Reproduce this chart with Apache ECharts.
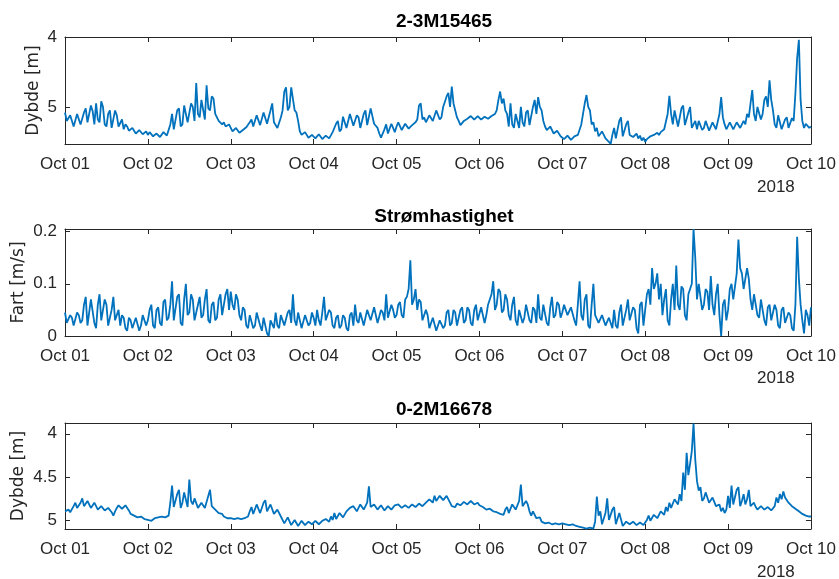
<!DOCTYPE html>
<html><head><meta charset="utf-8">
<script src="https://cdn.jsdelivr.net/npm/echarts@6/dist/echarts.min.js"></script>
<style>html,body{margin:0;padding:0;background:#fff}#c{width:839px;height:579px}</style>
</head><body><div id="c"></div>
<script>
// half-hourly samples starting 2018-10-01 00:00, ending 2018-10-10 00:00 (one row per day)
const dayLabels = ['Oct 01','Oct 02','Oct 03','Oct 04','Oct 05','Oct 06','Oct 07','Oct 08','Oct 09','Oct 10'];
const yearLabel = '2018';
const titles = ['2-3M15465','Strømhastighet','0-2M16678'];
const yNames = ['Dybde [m]','Fart [m/s]','Dybde [m]'];
const ticksTop = [4,5];
const ticksMid = [0,0.1,0.2];
const ticksBot = [4,4.5,5];

const depthTop = [
 5.08,5.20,5.22,5.12,5.14,5.28,5.26,5.10,5.12,5.25,5.24,5.08,5.02,5.22,5.20,4.98,5.06,5.25,4.95,5.18,5.22,4.92,5.00,5.25,5.28,5.10,5.05,5.30,5.30,5.05,5.12,5.28,5.26,5.18,5.32,5.25,5.28,5.34,5.36,5.30,5.32,5.38,5.37,5.33,5.33,5.39,5.38,5.35,
 5.40,5.36,5.37,5.42,5.42,5.38,5.38,5.43,5.41,5.36,5.36,5.41,5.40,5.25,5.10,5.32,5.30,5.05,5.02,5.28,5.25,4.98,4.98,5.22,5.20,4.95,5.00,5.20,4.66,5.10,5.15,4.90,4.92,5.18,4.69,5.02,5.05,4.85,4.88,5.10,5.12,5.20,5.18,5.25,5.22,5.28,5.28,5.25,
 5.30,5.35,5.35,5.30,5.32,5.37,5.37,5.33,5.34,5.29,5.30,5.22,5.18,5.28,5.28,5.12,5.12,5.26,5.25,5.08,5.10,5.24,5.22,5.05,4.95,5.22,5.20,5.30,5.30,5.15,5.05,4.78,4.72,5.05,5.00,4.72,4.70,5.05,5.08,5.20,5.35,5.40,5.42,5.36,5.38,5.44,5.45,5.40,
 5.40,5.45,5.44,5.39,5.38,5.46,5.46,5.41,5.40,5.45,5.43,5.36,5.35,5.24,5.20,5.35,5.32,5.14,5.12,5.30,5.28,5.10,5.10,5.27,5.25,5.12,5.15,5.30,5.30,5.10,5.05,5.26,5.25,5.02,5.00,5.24,5.22,5.30,5.38,5.44,5.45,5.32,5.25,5.38,5.38,5.24,5.30,5.36,
 5.28,5.22,5.20,5.33,5.32,5.24,5.25,5.31,5.30,5.26,5.28,5.22,5.18,4.98,4.95,5.18,5.15,5.22,5.20,5.12,5.10,5.20,5.18,5.05,5.05,5.18,5.15,5.00,5.00,4.85,4.80,5.00,4.71,4.95,5.05,5.15,5.20,5.26,5.28,5.20,5.22,5.17,5.18,5.13,5.14,5.18,5.17,5.13,
 5.15,5.18,5.18,5.14,5.13,5.17,5.17,5.13,5.14,5.10,5.05,4.90,4.78,4.95,4.88,5.05,5.10,5.28,4.95,5.25,5.30,5.10,5.12,5.30,5.00,5.22,5.28,5.08,5.05,5.26,5.25,5.00,4.90,5.10,4.86,5.00,5.05,5.20,5.28,5.33,5.35,5.28,5.30,5.38,5.40,5.34,5.38,5.42,
 5.42,5.46,5.45,5.41,5.43,5.47,5.46,5.42,5.44,5.40,5.40,5.25,5.10,4.95,4.83,5.00,5.05,5.25,5.22,5.35,5.30,5.42,5.42,5.35,5.35,5.45,5.45,5.50,5.53,5.40,5.30,5.45,5.45,5.20,5.15,5.42,5.40,5.25,5.20,5.40,5.38,5.43,5.42,5.38,5.45,5.41,5.48,5.44,
 5.50,5.46,5.46,5.42,5.44,5.40,5.42,5.37,5.40,5.36,5.38,5.32,5.30,5.10,4.84,5.10,5.25,5.05,5.05,5.28,5.30,5.02,4.98,5.26,5.28,5.08,5.00,5.30,5.25,5.20,5.32,5.20,5.18,5.33,5.30,5.20,5.22,5.34,5.33,5.22,5.20,5.32,5.30,5.10,4.86,5.15,5.25,5.32,
 5.30,5.22,5.22,5.32,5.32,5.22,5.20,5.30,5.28,5.20,5.25,5.10,5.15,4.95,4.76,5.10,5.20,5.00,4.98,5.18,5.10,4.90,4.85,5.00,4.62,4.90,5.05,5.25,5.30,5.12,5.12,5.32,5.32,5.18,5.15,5.30,5.30,5.16,5.20,4.80,4.30,4.04,4.90,5.20,5.30,5.24,5.25,5.30,
 5.28
];
const speed = [
 0.045,0.025,0.025,0.04,0.035,0.02,0.02,0.045,0.04,0.025,0.03,0.06,0.075,0.02,0.02,0.07,0.07,0.025,0.015,0.06,0.08,0.03,0.03,0.07,0.06,0.02,0.02,0.05,0.075,0.03,0.03,0.05,0.02,0.04,0.035,0.015,0.01,0.035,0.03,0.015,0.015,0.035,0.035,0.01,0.02,0.04,0.04,0.02,
 0.03,0.05,0.06,0.02,0.015,0.05,0.055,0.025,0.02,0.065,0.07,0.03,0.035,0.06,0.105,0.03,0.03,0.075,0.08,0.025,0.02,0.07,0.10,0.04,0.045,0.08,0.07,0.03,0.03,0.06,0.075,0.035,0.04,0.07,0.09,0.03,0.025,0.06,0.065,0.03,0.035,0.07,0.08,0.04,0.04,0.08,0.09,0.05,
 0.085,0.06,0.05,0.08,0.07,0.04,0.03,0.055,0.05,0.02,0.015,0.04,0.04,0.015,0.02,0.045,0.045,0.02,0.01,0.035,0.035,0.005,0.0,0.03,0.03,0.015,0.045,0.02,0.015,0.04,0.04,0.02,0.02,0.045,0.05,0.025,0.08,0.03,0.02,0.045,0.045,0.015,0.015,0.04,0.04,0.02,0.025,0.045,
 0.035,0.02,0.05,0.03,0.02,0.045,0.075,0.03,0.03,0.05,0.045,0.02,0.015,0.035,0.04,0.015,0.02,0.04,0.035,0.015,0.01,0.04,0.045,0.02,0.06,0.03,0.025,0.045,0.045,0.02,0.02,0.05,0.05,0.03,0.03,0.055,0.055,0.025,0.025,0.05,0.045,0.03,0.08,0.035,0.035,0.06,0.05,0.035,
 0.04,0.06,0.065,0.04,0.035,0.07,0.075,0.09,0.145,0.06,0.07,0.09,0.05,0.07,0.065,0.03,0.03,0.05,0.04,0.015,0.015,0.035,0.035,0.01,0.01,0.03,0.03,0.015,0.02,0.045,0.05,0.02,0.025,0.05,0.045,0.02,0.02,0.05,0.055,0.025,0.03,0.055,0.05,0.025,0.02,0.05,0.06,0.03,
 0.03,0.055,0.055,0.025,0.04,0.06,0.06,0.08,0.105,0.05,0.06,0.09,0.085,0.045,0.05,0.08,0.07,0.04,0.03,0.06,0.075,0.03,0.02,0.05,0.05,0.025,0.035,0.06,0.06,0.03,0.025,0.055,0.05,0.025,0.08,0.035,0.03,0.06,0.06,0.025,0.02,0.055,0.075,0.035,0.04,0.065,0.06,0.035,
 0.045,0.06,0.06,0.04,0.04,0.055,0.055,0.03,0.02,0.06,0.105,0.04,0.03,0.07,0.08,0.02,0.015,0.06,0.10,0.04,0.04,0.025,0.025,0.04,0.04,0.02,0.02,0.035,0.035,0.015,0.05,0.02,0.015,0.045,0.06,0.02,0.02,0.05,0.07,0.03,0.03,0.055,0.05,0.015,0.005,0.06,0.065,0.02,
 0.05,0.08,0.09,0.06,0.13,0.09,0.10,0.12,0.07,0.10,0.04,0.07,0.09,0.03,0.02,0.07,0.10,0.05,0.135,0.06,0.05,0.095,0.09,0.04,0.03,0.08,0.08,0.10,0.205,0.15,0.07,0.10,0.10,0.05,0.06,0.09,0.085,0.05,0.115,0.06,0.04,0.08,0.10,0.04,0.0,0.06,0.07,0.03,
 0.05,0.09,0.10,0.07,0.07,0.12,0.185,0.13,0.12,0.09,0.09,0.13,0.11,0.07,0.05,0.08,0.08,0.04,0.035,0.07,0.07,0.03,0.02,0.055,0.06,0.03,0.03,0.06,0.05,0.02,0.015,0.05,0.055,0.025,0.025,0.045,0.04,0.015,0.01,0.06,0.19,0.11,0.06,0.03,0.005,0.05,0.04,0.02,
 0.055
];
const depthBot = [
 4.90,4.88,4.88,4.91,4.92,4.84,4.80,4.86,4.86,4.80,4.75,4.84,4.84,4.78,4.78,4.86,4.85,4.80,4.82,4.88,4.88,4.84,4.84,4.89,4.90,4.86,4.87,4.91,4.95,4.90,4.86,4.83,4.82,4.87,4.88,4.83,4.84,4.89,4.93,4.95,4.95,4.93,4.97,4.95,4.96,4.98,4.99,4.98,
 5.00,5.01,5.01,5.00,4.98,4.99,4.97,4.98,4.96,4.98,4.97,4.96,4.95,4.80,4.60,4.85,4.85,4.70,4.65,4.86,4.80,4.68,4.70,4.85,4.53,4.78,4.82,4.75,4.74,4.86,4.86,4.80,4.78,4.86,4.84,4.72,4.65,4.84,4.85,4.88,4.90,4.92,4.94,4.93,4.96,4.95,4.98,4.97,
 4.98,4.99,4.99,4.98,4.98,4.99,4.99,4.98,4.98,4.97,4.96,4.90,4.85,4.93,4.93,4.82,4.80,4.92,4.90,4.80,4.77,4.90,4.88,4.82,4.82,4.93,4.92,4.88,4.90,4.96,4.98,5.04,5.04,4.97,4.95,5.06,5.07,5.00,5.00,5.07,5.06,5.01,5.02,5.06,5.05,5.02,5.03,5.05,
 5.04,5.01,5.00,5.05,5.05,5.01,5.02,4.99,4.99,5.02,4.96,5.00,4.92,4.99,5.00,4.92,4.90,4.97,4.97,4.90,4.92,4.86,4.88,4.84,4.85,4.90,4.90,4.82,4.80,4.88,4.88,4.80,4.61,4.85,4.86,4.82,4.82,4.88,4.88,4.83,4.84,4.89,4.90,4.84,4.85,4.88,4.86,4.83,
 4.85,4.82,4.82,4.86,4.87,4.83,4.83,4.86,4.86,4.82,4.81,4.85,4.85,4.81,4.82,4.84,4.84,4.80,4.80,4.76,4.76,4.80,4.72,4.78,4.78,4.72,4.70,4.77,4.76,4.72,4.74,4.80,4.84,4.85,4.85,4.81,4.80,4.83,4.82,4.79,4.78,4.82,4.81,4.78,4.79,4.82,4.82,4.80,
 4.83,4.82,4.85,4.84,4.88,4.86,4.87,4.89,4.90,4.89,4.91,4.92,4.93,4.92,4.94,4.88,4.85,4.92,4.90,4.82,4.80,4.88,4.88,4.78,4.59,4.84,4.85,4.78,4.82,4.90,4.95,4.90,4.92,4.98,5.00,4.97,5.02,5.01,5.04,5.02,5.03,5.05,5.05,5.04,5.04,5.06,5.05,5.04,
 5.04,5.05,5.05,5.06,5.06,5.05,5.05,5.07,5.07,5.08,5.08,5.09,5.09,5.10,5.10,5.09,5.09,5.10,5.10,5.02,4.73,4.95,4.90,5.05,5.05,4.92,4.75,5.00,5.02,4.88,4.85,5.05,5.06,4.92,4.90,5.07,5.08,5.02,5.00,5.05,5.04,5.02,5.02,5.06,5.06,5.03,5.04,5.06,
 5.03,5.00,4.95,5.01,5.00,4.94,4.92,4.98,4.96,4.90,4.88,4.94,4.85,4.90,4.80,4.86,4.84,4.76,4.75,4.82,4.70,4.78,4.45,4.65,4.22,4.48,4.35,4.20,3.88,4.30,4.55,4.66,4.62,4.78,4.75,4.68,4.70,4.80,4.80,4.74,4.74,4.84,4.86,4.82,4.90,4.86,4.92,4.88,
 4.72,4.86,4.60,4.82,4.80,4.65,4.62,4.84,4.78,4.70,4.82,4.76,4.65,4.84,4.86,4.80,4.85,4.88,4.88,4.84,4.84,4.88,4.87,4.85,4.86,4.89,4.88,4.84,4.74,4.80,4.70,4.76,4.67,4.74,4.76,4.80,4.82,4.84,4.85,4.87,4.88,4.90,4.92,4.93,4.94,4.95,4.95,4.96,
 4.96
];

const FONT = '"Liberation Sans", Arial, Helvetica, sans-serif';
const NAMEFONT = '"DejaVu Sans", "Liberation Sans", sans-serif';
const AX = '#262626';
const LINE = '#0072BD';
const STEPS_PER_DAY = 48;
const TOTAL = STEPS_PER_DAY * (dayLabels.length - 1);
const grids = [
  {left:65, width:749, top:37, height:107},
  {left:65, width:749, top:229, height:107},
  {left:65, width:749, top:423, height:106}
];
const titleTops = [7, 202, 395];
const yearTops = [179, 370, 564];

function pairs(arr){ return arr.map((v,i)=>[i,v]); }
function xAxes(gi){
  const base = {gridIndex:gi, type:'value', min:0, max:TOTAL, interval:STEPS_PER_DAY,
    axisLine:{show:true, onZero:false, lineStyle:{color:AX, width:1}},
    axisTick:{show:true, inside:true, length:5, lineStyle:{color:AX}},
    splitLine:{show:false}};
  return [
    Object.assign({}, base, {position:'bottom',
      axisLabel:{show:true, margin:12, color:AX, fontSize:17, fontFamily:FONT,
        formatter:(v)=>dayLabels[Math.round(v/STEPS_PER_DAY)]||''}}),
    Object.assign({}, base, {position:'top', axisLabel:{show:false}})
  ];
}
function yAxes(gi, min, max, inv, ticks, name, gap, fmt){
  const base = {gridIndex:gi, type:'value', min:min, max:max, inverse:inv,
    axisLine:{show:true, onZero:false, lineStyle:{color:AX, width:1}},
    axisTick:{show:true, inside:true, length:5, lineStyle:{color:AX}, customValues:ticks},
    splitLine:{show:false}};
  return [
    Object.assign({}, base, {position:'left', name:name, nameLocation:'middle', nameGap:gap,
      nameMoveOverlap:false,
      nameTextStyle:{color:AX, fontSize:17, fontFamily:NAMEFONT},
      axisLabel:{show:true, margin:8, color:AX, fontSize:17, fontFamily:FONT, customValues:ticks, formatter:fmt}}),
    Object.assign({}, base, {position:'right', axisLabel:{show:false}})
  ];
}

const option = {
  animation:false,
  backgroundColor:'#ffffff',
  title: titles.map((t,i)=>({text:t, left:439, top:titleTops[i], textAlign:'center',
    textStyle:{fontSize:19, fontWeight:'bold', color:'#000', fontFamily:FONT}})),
  grid: grids,
  xAxis: [].concat(xAxes(0), xAxes(1), xAxes(2)),
  yAxis: [].concat(
    yAxes(0, 4, 5.53, true, ticksTop, yNames[0], 23, v=>String(v)),
    yAxes(1, 0, 0.205, false, ticksMid, yNames[1], 38, v=>String(+v.toFixed(2))),
    yAxes(2, 3.875, 5.105, true, ticksBot, yNames[2], 38, v=>String(v))
  ),
  graphic: yearTops.map(t=>({type:'text', left:757, top:t,
    style:{text:yearLabel, fill:AX, fontSize:17, fontFamily:FONT}})),
  series: [
    {type:'line', xAxisIndex:0, yAxisIndex:0, data:pairs(depthTop), showSymbol:false, symbol:'none',
      lineStyle:{color:LINE, width:1.8}, clip:true},
    {type:'line', xAxisIndex:2, yAxisIndex:2, data:pairs(speed), showSymbol:false, symbol:'none',
      lineStyle:{color:LINE, width:1.8}, clip:true},
    {type:'line', xAxisIndex:4, yAxisIndex:4, data:pairs(depthBot), showSymbol:false, symbol:'none',
      lineStyle:{color:LINE, width:1.8}, clip:true}
  ]
};
const chart = echarts.init(document.getElementById('c'), null, {renderer:'canvas'});
chart.setOption(option);
</script></body></html>
